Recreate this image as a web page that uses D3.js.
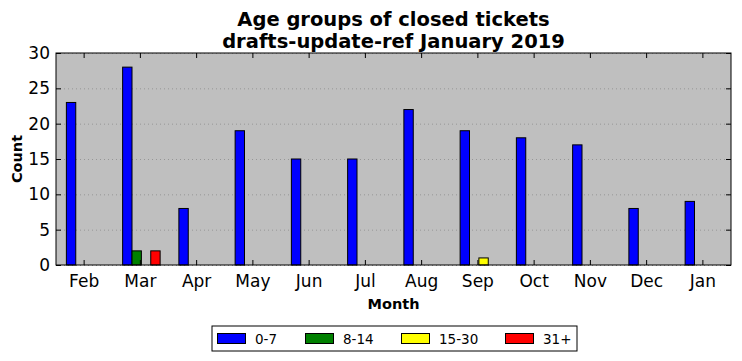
<!DOCTYPE html>
<html>
<head>
<meta charset="utf-8">
<script src="https://cdn.jsdelivr.net/npm/d3@7"></script>
<style>
  body { margin: 0; background: #fff; }
  text { font-family: "DejaVu Sans", sans-serif; }
</style>
</head>
<body>
<div id="chart"></div>
<script>
// data
const months = ["Feb", "Mar", "Apr", "May", "Jun", "Jul", "Aug", "Sep", "Oct", "Nov", "Dec", "Jan"];
const groups = ["0-7", "8-14", "15-30", "31+"];
const age0to7 = [23, 28, 8, 19, 15, 15, 22, 19, 18, 17, 8, 9];
const age8to14 = [0, 2, 0, 0, 0, 0, 0, 0, 0, 0, 0, 0];
const age15to30 = [0, 0, 0, 0, 0, 0, 0, 1, 0, 0, 0, 0];
const age31plus = [0, 2, 0, 0, 0, 0, 0, 0, 0, 0, 0, 0];
const yTicks = [0, 5, 10, 15, 20, 25, 30];

const seriesValues = [age0to7, age8to14, age15to30, age31plus];
const colors = ["#0000ff", "#008000", "#ffff00", "#ff0000"];

const W = 742, H = 361;
const margin = { top: 53, right: 11, bottom: 96, left: 56 };
const width = W - margin.left - margin.right;
const height = H - margin.top - margin.bottom;

const svg = d3.select("#chart")
    .append("svg")
    .attr("width", W)
    .attr("height", H);

const g = svg.append("g")
    .attr("transform", `translate(${margin.left},${margin.top})`);

const x = d3.scaleBand()
    .domain(months)
    .range([0, width]);

const xInner = d3.scaleBand()
    .domain(groups)
    .range([0, x.bandwidth() * 4 / 6]);

const y = d3.scaleLinear()
    .domain([0, 30])
    .range([height, 0]);

// plot background
g.append("rect")
    .attr("width", width)
    .attr("height", height)
    .attr("fill", "#bfbfbf");

// dotted horizontal grid
g.selectAll(".grid")
    .data(yTicks)
    .enter().append("line")
    .attr("x1", 0)
    .attr("x2", width)
    .attr("y1", d => y(d) + 0.5)
    .attr("y2", d => y(d) + 0.5)
    .attr("stroke", "#8c8c8c")
    .attr("stroke-width", 0.8)
    .attr("stroke-dasharray", "1,3");

// bars
const offset = (x.bandwidth() - xInner.range()[1]) / 2 + 1;
const data = [];
months.forEach((m, i) => {
    groups.forEach((gr, j) => {
        data.push({ month: m, group: gr, value: seriesValues[j][i], color: colors[j] });
    });
});

g.selectAll(".bar")
    .data(data.filter(d => d.value > 0))
    .enter().append("rect")
    .attr("class", "bar")
    .attr("x", d => x(d.month) + offset + xInner(d.group))
    .attr("y", d => y(d.value))
    .attr("width", xInner.bandwidth())
    .attr("height", d => height - y(d.value))
    .attr("fill", d => d.color)
    .attr("stroke", "#000")
    .attr("stroke-width", 1);

// axes, ticks inward on all sides
const xAxis = d3.axisBottom(x).tickSize(-5).tickPadding(10);
const yAxis = d3.axisLeft(y).tickValues(yTicks).tickSize(-5).tickPadding(6);

const gx = g.append("g")
    .attr("transform", `translate(0,${height})`)
    .call(xAxis);
const gy = g.append("g").call(yAxis);
g.append("g").call(d3.axisTop(x).tickSize(-5).tickFormat(""));
g.append("g").attr("transform", `translate(${width},0)`)
    .call(d3.axisRight(y).tickValues(yTicks).tickSize(-5).tickFormat(""));

g.selectAll(".domain").remove();
g.selectAll(".tick line").attr("stroke", "#000");
[gx, gy].forEach(a => a.selectAll("text")
    .attr("font-size", 17)
    .attr("fill", "#000")
    .style("font-family", "DejaVu Sans"));

// frame
g.append("rect")
    .attr("width", width)
    .attr("height", height)
    .attr("fill", "none")
    .attr("stroke", "#000")
    .attr("stroke-width", 1);

// titles
svg.append("text")
    .attr("x", margin.left + width / 2)
    .attr("y", 26)
    .attr("text-anchor", "middle")
    .attr("font-size", 19.5)
    .attr("font-weight", "bold")
    .text("Age groups of closed tickets");
svg.append("text")
    .attr("x", margin.left + width / 2)
    .attr("y", 48)
    .attr("text-anchor", "middle")
    .attr("font-size", 19.5)
    .attr("font-weight", "bold")
    .text("drafts-update-ref January 2019");

svg.append("text")
    .attr("x", margin.left + width / 2)
    .attr("y", 309)
    .attr("text-anchor", "middle")
    .attr("font-size", 14.5)
    .attr("font-weight", "bold")
    .text("Month");

svg.append("text")
    .attr("transform", "rotate(-90)")
    .attr("x", -(margin.top + height / 2))
    .attr("y", 22)
    .attr("text-anchor", "middle")
    .attr("font-size", 14.5)
    .attr("font-weight", "bold")
    .text("Count");

// legend
const legend = svg.append("g").attr("transform", "translate(212,326)");
legend.append("rect")
    .attr("width", 365)
    .attr("height", 25)
    .attr("fill", "#fff")
    .attr("stroke", "#000");
const entryX = [5, 93, 189, 293];
groups.forEach((gr, j) => {
    const e = legend.append("g").attr("transform", `translate(${entryX[j]},0)`);
    e.append("rect")
        .attr("x", 0.5)
        .attr("y", 7.5)
        .attr("width", 28)
        .attr("height", 10)
        .attr("fill", colors[j])
        .attr("stroke", "#000");
    e.append("text")
        .attr("x", 38)
        .attr("y", 17.5)
        .attr("font-size", 13.5)
        .text(gr);
});
</script>
</body>
</html>
